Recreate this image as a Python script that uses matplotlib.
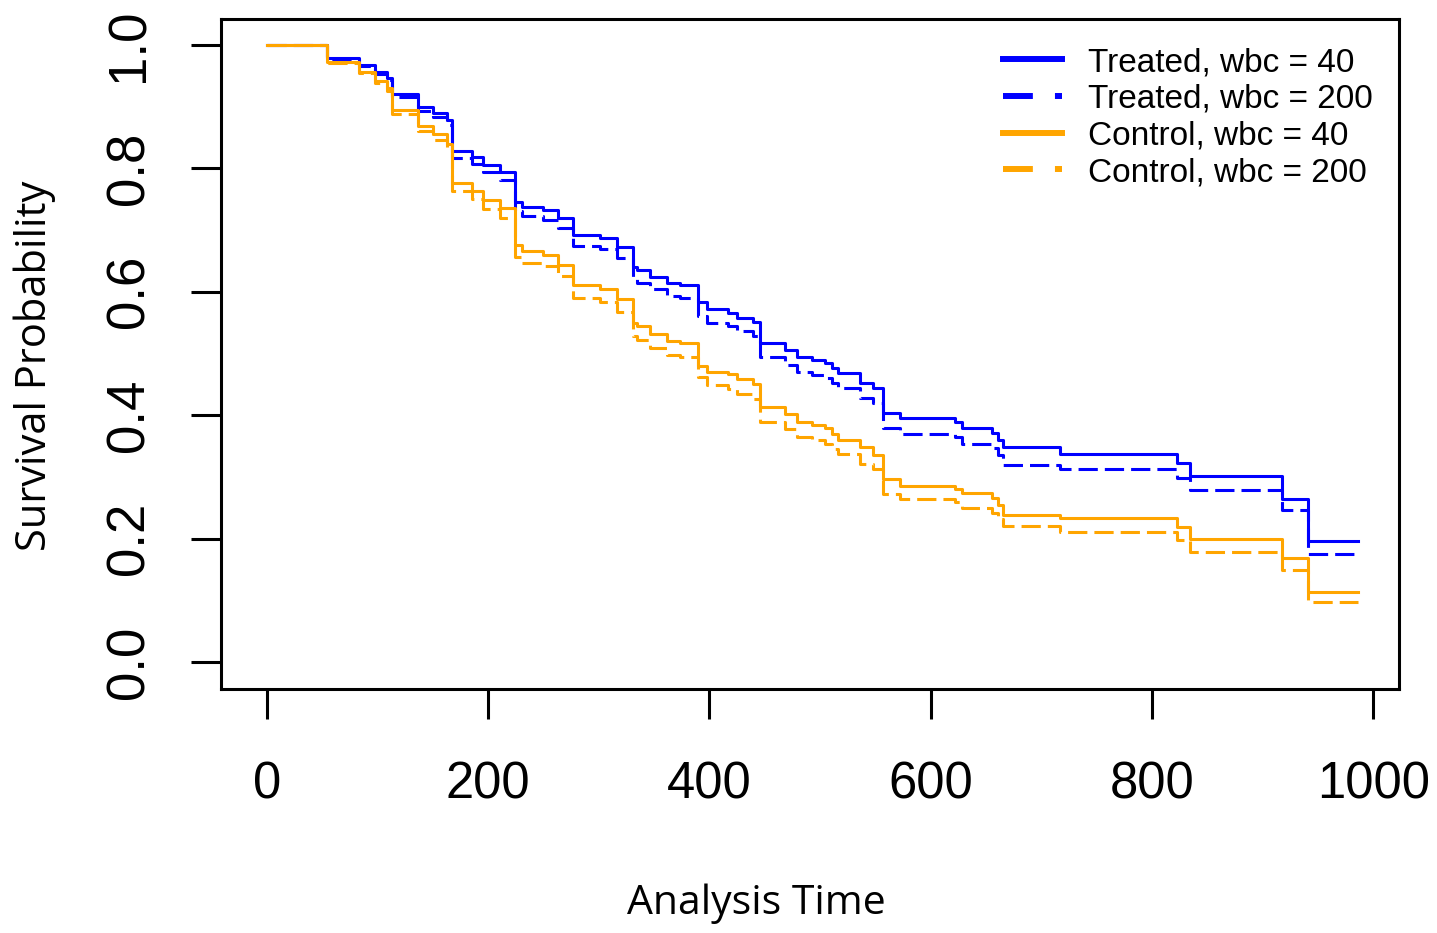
import matplotlib
matplotlib.use("Agg")
import matplotlib.pyplot as plt
from matplotlib.lines import Line2D

# ---- data (step curves share the event times) ----
times = [0, 54.5, 83.3, 97.9, 108.7, 113.2, 136.7, 150.3, 162.9, 167.5, 185.5,
         195.5, 210.9, 224.5, 230.8, 249.8, 263.4, 276.9, 301.3, 316.7, 331.1,
         334.7, 346.5, 361.8, 373.6, 389.9, 398.0, 417.0, 425.2, 439.6, 446.0,
         468.4, 479.5, 493.0, 504.8, 511.1, 516.6, 536.5, 548.2, 557.3, 572.7,
         622.4, 628.7, 655.8, 661.2, 665.8, 716.9, 822.6, 834.4, 917.5, 941.0,
         986.0]

treated_wbc40 = [1.000, 0.979, 0.968, 0.956, 0.947, 0.920, 0.900, 0.890, 0.878, 0.828,
                 0.818, 0.806, 0.794, 0.746, 0.738, 0.733, 0.720, 0.692, 0.687, 0.673,
                 0.640, 0.635, 0.624, 0.614, 0.611, 0.583, 0.572, 0.566, 0.558, 0.551,
                 0.517, 0.506, 0.494, 0.489, 0.484, 0.476, 0.468, 0.452, 0.444, 0.404,
                 0.395, 0.389, 0.379, 0.371, 0.360, 0.348, 0.337, 0.323, 0.301, 0.264,
                 0.196, 0.196]

treated_wbc200 = [1.000, 0.978, 0.966, 0.953, 0.943, 0.915, 0.893, 0.883, 0.870, 0.817,
                  0.807, 0.794, 0.781, 0.731, 0.723, 0.717, 0.704, 0.674, 0.669, 0.655,
                  0.620, 0.615, 0.604, 0.593, 0.590, 0.561, 0.550, 0.544, 0.536, 0.529,
                  0.494, 0.482, 0.470, 0.465, 0.460, 0.452, 0.444, 0.428, 0.420, 0.379,
                  0.370, 0.364, 0.354, 0.346, 0.335, 0.320, 0.312, 0.298, 0.278, 0.246,
                  0.175, 0.175]

control_wbc40 = [1.000, 0.972, 0.957, 0.942, 0.930, 0.894, 0.869, 0.856, 0.840, 0.777,
                 0.764, 0.749, 0.735, 0.676, 0.666, 0.660, 0.644, 0.611, 0.605, 0.589,
                 0.550, 0.545, 0.532, 0.521, 0.517, 0.480, 0.470, 0.467, 0.458, 0.451,
                 0.414, 0.402, 0.389, 0.384, 0.379, 0.370, 0.360, 0.349, 0.335, 0.296,
                 0.285, 0.280, 0.274, 0.266, 0.255, 0.238, 0.233, 0.218, 0.199, 0.169,
                 0.113, 0.113]

control_wbc200 = [1.000, 0.970, 0.955, 0.938, 0.925, 0.888, 0.860, 0.846, 0.830, 0.763,
                  0.750, 0.734, 0.719, 0.657, 0.647, 0.641, 0.625, 0.590, 0.584, 0.567,
                  0.528, 0.522, 0.509, 0.497, 0.494, 0.462, 0.449, 0.443, 0.434, 0.426,
                  0.389, 0.377, 0.364, 0.359, 0.354, 0.345, 0.337, 0.321, 0.313, 0.273,
                  0.264, 0.259, 0.249, 0.242, 0.232, 0.221, 0.211, 0.198, 0.179, 0.149,
                  0.097, 0.097]

legend_labels = ["Treated, wbc = 40", "Treated, wbc = 200",
                 "Control, wbc = 40", "Control, wbc = 200"]
x_ticks = [0, 200, 400, 600, 800, 1000]
y_ticks = [0.0, 0.2, 0.4, 0.6, 0.8, 1.0]
y_ticklabels = ["0.0", "0.2", "0.4", "0.6", "0.8", "1.0"]

BLUE = "#0000FF"
ORANGE = "#FFA500"

W, H = 1437, 933
fig = plt.figure(figsize=(W / 100, H / 100), dpi=100)
ax = fig.add_axes([221 / W, 1 - 689 / H, (1399 - 221) / W, (689 - 19) / H])

lw = 2.2
dash = (0, (6.3, 2.3))
ax.step(times, treated_wbc40, where="post", color=BLUE, lw=lw)
ax.step(times, treated_wbc200, where="post", color=BLUE, lw=lw, linestyle=dash)
ax.step(times, control_wbc40, where="post", color=ORANGE, lw=lw)
ax.step(times, control_wbc200, where="post", color=ORANGE, lw=lw, linestyle=dash)

ax.set_xlim(-41.3, 1023.2)
ax.set_ylim(-0.0438, 1.0421)

tick_font = "Liberation Sans"
ax.set_xticks(x_ticks)
ax.set_xticklabels([str(v) for v in x_ticks], fontsize=36.5, family=tick_font)
ax.set_yticks(y_ticks)
ax.set_yticklabels(y_ticklabels, fontsize=38, family=tick_font, rotation=90, va="center")
ax.tick_params(axis="x", length=21.6, width=2.2, pad=30, direction="out")
ax.tick_params(axis="y", length=21.6, width=2.2, pad=26, direction="out")
for s in ax.spines.values():
    s.set_linewidth(2.2)

handles = [
    Line2D([], [], color=BLUE, lw=4.3),
    Line2D([], [], color=BLUE, lw=4.3, linestyle=(0, (5, 3.7))),
    Line2D([], [], color=ORANGE, lw=4.3),
    Line2D([], [], color=ORANGE, lw=4.3, linestyle=(0, (5, 3.7))),
]
ax.legend(handles, legend_labels, loc="upper left",
          bbox_to_anchor=(1003 / W, 1 - 47 / H), bbox_transform=fig.transFigure,
          frameon=False, borderpad=0, borderaxespad=0,
          handlelength=1.78, handletextpad=0.78, labelspacing=0.17,
          prop={"family": tick_font, "size": 24})

fig.text(756 / W, 1 - 904 / H, "Analysis Time", family="Open Sans",
         fontsize=29.5, ha="center", va="center")
fig.text(35 / W, 1 - 366 / H, "Survival Probability", family="Open Sans",
         fontsize=30, ha="center", va="center", rotation=90)

fig.savefig("out.png", dpi=100)
